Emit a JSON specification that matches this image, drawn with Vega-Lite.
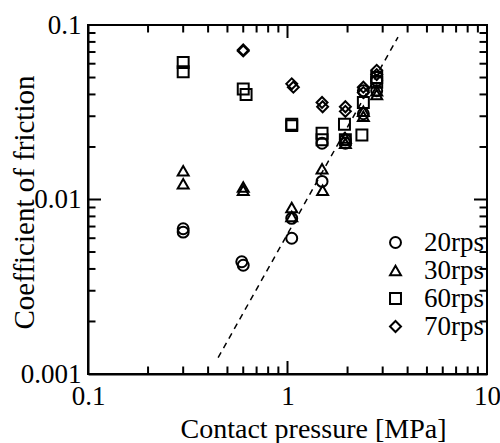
{
  "$schema": "https://vega.github.io/schema/vega-lite/v6.json",
  "width": 399,
  "height": 349,
  "autosize": {"type": "none"},
  "padding": {"left": 88, "top": 25, "right": 13, "bottom": 69},
  "background": "white",
  "config": {
    "view": {"stroke": "black", "strokeWidth": 2},
    "font": "Liberation Serif",
    "axis": {"grid": false, "domainColor": "black", "domainWidth": 2, "labelFontSize": 27, "labelColor": "black", "titleColor": "black", "titleFontWeight": "normal"}
  },
  "datasets": {
    "pts": [
      {"p": 0.3, "mu": 0.0068, "speed": "20rps"},
      {"p": 0.3, "mu": 0.0065, "speed": "20rps"},
      {"p": 0.59, "mu": 0.0044, "speed": "20rps"},
      {"p": 0.6, "mu": 0.0042, "speed": "20rps"},
      {"p": 1.05, "mu": 0.006, "speed": "20rps"},
      {"p": 1.05, "mu": 0.0078, "speed": "20rps"},
      {"p": 1.49, "mu": 0.021, "speed": "20rps"},
      {"p": 1.49, "mu": 0.0127, "speed": "20rps"},
      {"p": 1.95, "mu": 0.022, "speed": "20rps"},
      {"p": 1.95, "mu": 0.021, "speed": "20rps"},
      {"p": 2.4, "mu": 0.042, "speed": "20rps"},
      {"p": 2.4, "mu": 0.031, "speed": "20rps"},
      {"p": 2.8, "mu": 0.048, "speed": "20rps"},
      {"p": 2.8, "mu": 0.042, "speed": "20rps"},
      {"p": 0.3, "mu": 0.0146, "speed": "30rps"},
      {"p": 0.3, "mu": 0.0123, "speed": "30rps"},
      {"p": 0.6, "mu": 0.0118, "speed": "30rps"},
      {"p": 0.6, "mu": 0.0113, "speed": "30rps"},
      {"p": 1.05, "mu": 0.009, "speed": "30rps"},
      {"p": 1.05, "mu": 0.008, "speed": "30rps"},
      {"p": 1.49, "mu": 0.015, "speed": "30rps"},
      {"p": 1.5, "mu": 0.0113, "speed": "30rps"},
      {"p": 1.95, "mu": 0.0225, "speed": "30rps"},
      {"p": 1.95, "mu": 0.021, "speed": "30rps"},
      {"p": 2.4, "mu": 0.032, "speed": "30rps"},
      {"p": 2.4, "mu": 0.03, "speed": "30rps"},
      {"p": 2.8, "mu": 0.042, "speed": "30rps"},
      {"p": 2.8, "mu": 0.04, "speed": "30rps"},
      {"p": 0.3, "mu": 0.061, "speed": "60rps"},
      {"p": 0.3, "mu": 0.054, "speed": "60rps"},
      {"p": 0.6, "mu": 0.043, "speed": "60rps"},
      {"p": 0.62, "mu": 0.04, "speed": "60rps"},
      {"p": 1.05, "mu": 0.027, "speed": "60rps"},
      {"p": 1.05, "mu": 0.0265, "speed": "60rps"},
      {"p": 1.49, "mu": 0.024, "speed": "60rps"},
      {"p": 1.49, "mu": 0.022, "speed": "60rps"},
      {"p": 1.93, "mu": 0.027, "speed": "60rps"},
      {"p": 1.95, "mu": 0.022, "speed": "60rps"},
      {"p": 2.4, "mu": 0.036, "speed": "60rps"},
      {"p": 2.36, "mu": 0.0234, "speed": "60rps"},
      {"p": 2.8, "mu": 0.05, "speed": "60rps"},
      {"p": 2.8, "mu": 0.047, "speed": "60rps"},
      {"p": 0.6, "mu": 0.072, "speed": "70rps"},
      {"p": 0.6, "mu": 0.071, "speed": "70rps"},
      {"p": 1.05, "mu": 0.046, "speed": "70rps"},
      {"p": 1.07, "mu": 0.044, "speed": "70rps"},
      {"p": 1.49, "mu": 0.036, "speed": "70rps"},
      {"p": 1.5, "mu": 0.034, "speed": "70rps"},
      {"p": 1.95, "mu": 0.034, "speed": "70rps"},
      {"p": 1.95, "mu": 0.032, "speed": "70rps"},
      {"p": 2.4, "mu": 0.044, "speed": "70rps"},
      {"p": 2.4, "mu": 0.041, "speed": "70rps"},
      {"p": 2.8, "mu": 0.055, "speed": "70rps"},
      {"p": 2.8, "mu": 0.052, "speed": "70rps"}
    ],
    "fit": [
      {"p": 0.449, "mu": 0.00124},
      {"p": 3.58, "mu": 0.0853}
    ],
    "xmaj": [{"p": 0.1}, {"p": 1}, {"p": 10}],
    "xmin": [{"p": 0.2}, {"p": 0.3}, {"p": 0.4}, {"p": 0.5}, {"p": 0.6}, {"p": 0.7}, {"p": 0.8}, {"p": 0.9}, {"p": 2}, {"p": 3}, {"p": 4}, {"p": 5}, {"p": 6}, {"p": 7}, {"p": 8}, {"p": 9}],
    "ymaj": [{"mu": 0.001}, {"mu": 0.01}, {"mu": 0.1}],
    "ymin": [{"mu": 0.002}, {"mu": 0.003}, {"mu": 0.004}, {"mu": 0.005}, {"mu": 0.006}, {"mu": 0.007}, {"mu": 0.008}, {"mu": 0.009}, {"mu": 0.02}, {"mu": 0.03}, {"mu": 0.04}, {"mu": 0.05}, {"mu": 0.06}, {"mu": 0.07}, {"mu": 0.08}, {"mu": 0.09}]
  },
  "layer": [
    {
      "data": {"name": "pts"},
      "mark": {"type": "point", "filled": false, "strokeWidth": 2, "size": 120, "color": "black", "opacity": 1},
      "encoding": {
        "x": {
          "field": "p", "type": "quantitative",
          "scale": {"type": "log", "domain": [0.1, 10], "nice": false},
          "axis": {
            "orient": "bottom",
            "values": [0.1, 1, 10],
            "format": "~g",
            "ticks": false,
            "labelFlush": false,
            "labelBaseline": "top",
            "labelPadding": 9,
            "title": "Contact pressure [MPa]",
            "titleFontSize": 28,
            "titleX": 225,
            "titleY": 63,
            "titleAlign": "center",
            "titleBaseline": "alphabetic"
          }
        },
        "y": {
          "field": "mu", "type": "quantitative",
          "scale": {"type": "log", "domain": [0.001, 0.1], "nice": false},
          "axis": {
            "orient": "left",
            "values": [0.001, 0.01, 0.1],
            "format": "~g",
            "ticks": false,
            "labelFlush": false,
            "labelPadding": 7,
            "title": "Coefficient of friction",
            "titleFontSize": 29,
            "titleX": -55,
            "titleY": 177,
            "titleAngle": 270,
            "titleAlign": "center",
            "titleBaseline": "alphabetic"
          }
        },
        "shape": {
          "field": "speed", "type": "nominal",
          "scale": {"domain": ["20rps", "30rps", "60rps", "70rps"], "range": ["circle", "triangle-up", "square", "diamond"]},
          "legend": {
            "orient": "none",
            "legendX": 294,
            "legendY": 204,
            "title": null,
            "padding": 0,
            "labelFont": "Liberation Serif",
            "labelFontSize": 27,
            "labelColor": "black",
            "labelOffset": 15,
            "rowPadding": 0,
            "symbolSize": 120,
            "symbolStrokeWidth": 2,
            "symbolStrokeColor": "black",
            "symbolFillColor": "transparent"
          }
        }
      }
    },
    {
      "data": {"name": "fit"},
      "mark": {"type": "line", "strokeDash": [6, 5], "color": "black", "strokeWidth": 1.5, "clip": true},
      "encoding": {
        "x": {"field": "p", "type": "quantitative"},
        "y": {"field": "mu", "type": "quantitative"}
      }
    },
    {
      "data": {"name": "xmaj"},
      "mark": {"type": "tick", "orient": "vertical", "size": 26, "thickness": 2, "color": "black", "opacity": 1, "clip": true},
      "encoding": {"x": {"field": "p", "type": "quantitative"}, "y": {"datum": 0.001, "type": "quantitative"}}
    },
    {
      "data": {"name": "xmaj"},
      "mark": {"type": "tick", "orient": "vertical", "size": 26, "thickness": 2, "color": "black", "opacity": 1, "clip": true},
      "encoding": {"x": {"field": "p", "type": "quantitative"}, "y": {"datum": 0.1, "type": "quantitative"}}
    },
    {
      "data": {"name": "xmin"},
      "mark": {"type": "tick", "orient": "vertical", "size": 15, "thickness": 2, "color": "black", "opacity": 1, "clip": true},
      "encoding": {"x": {"field": "p", "type": "quantitative"}, "y": {"datum": 0.001, "type": "quantitative"}}
    },
    {
      "data": {"name": "xmin"},
      "mark": {"type": "tick", "orient": "vertical", "size": 15, "thickness": 2, "color": "black", "opacity": 1, "clip": true},
      "encoding": {"x": {"field": "p", "type": "quantitative"}, "y": {"datum": 0.1, "type": "quantitative"}}
    },
    {
      "data": {"name": "ymaj"},
      "mark": {"type": "tick", "orient": "horizontal", "size": 26, "thickness": 2, "color": "black", "opacity": 1, "clip": true},
      "encoding": {"y": {"field": "mu", "type": "quantitative"}, "x": {"datum": 0.1, "type": "quantitative"}}
    },
    {
      "data": {"name": "ymaj"},
      "mark": {"type": "tick", "orient": "horizontal", "size": 26, "thickness": 2, "color": "black", "opacity": 1, "clip": true},
      "encoding": {"y": {"field": "mu", "type": "quantitative"}, "x": {"datum": 10, "type": "quantitative"}}
    },
    {
      "data": {"name": "ymin"},
      "mark": {"type": "tick", "orient": "horizontal", "size": 15, "thickness": 2, "color": "black", "opacity": 1, "clip": true},
      "encoding": {"y": {"field": "mu", "type": "quantitative"}, "x": {"datum": 0.1, "type": "quantitative"}}
    },
    {
      "data": {"name": "ymin"},
      "mark": {"type": "tick", "orient": "horizontal", "size": 15, "thickness": 2, "color": "black", "opacity": 1, "clip": true},
      "encoding": {"y": {"field": "mu", "type": "quantitative"}, "x": {"datum": 10, "type": "quantitative"}}
    }
  ]
}
